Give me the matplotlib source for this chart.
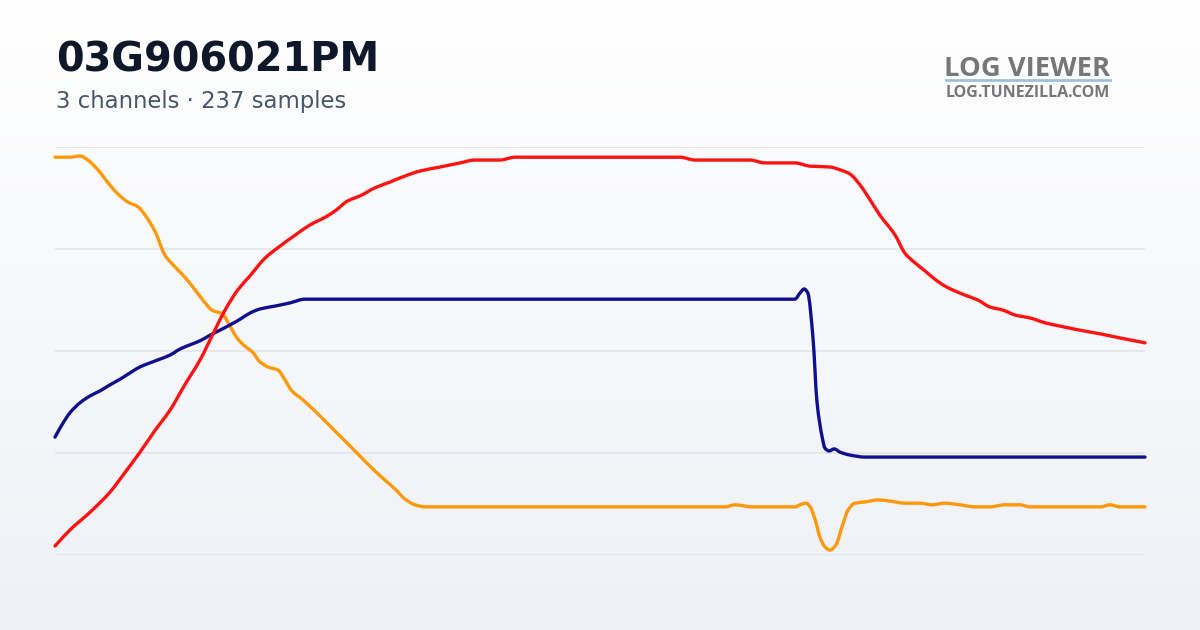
import matplotlib
matplotlib.use('Agg')
import matplotlib.pyplot as plt
import numpy as np
from matplotlib.lines import Line2D
from matplotlib.path import Path
from matplotlib.patches import PathPatch

# ---- data (sample index, % of range) ----
red_x = [0, 3.2, 7.6, 11.9, 15.2, 18.4, 21.7, 24.9, 28.1, 31.4, 34.6, 36.8, 39.6, 42.2,
         45.5, 48.7, 52.0, 55.2, 58.5, 60.6, 63.4, 66.0, 69.3, 72.5, 75.8, 79.0, 83.4,
         87.7, 90.9, 96.3, 99.6, 102.8, 135.3, 138.6, 150.5, 153.7, 160.2, 163.5, 167.8,
         170.0, 172.1, 174.3, 176.5, 178.6, 181.9, 184.0, 186.2, 188.4, 190.5, 192.7,
         194.9, 197.0, 199.8, 202.4, 205.3, 207.9, 211.1, 214.4, 217.6, 221.9, 226.3,
         230.6, 236.0]
red_y = [2.2, 6.1, 10.5, 15.4, 20.3, 25.2, 30.6, 35.5, 41.7, 47.8, 55.1, 60.0, 65.0, 68.4,
         72.8, 75.7, 78.4, 80.9, 82.8, 84.3, 86.8, 88.0, 90.0, 91.4, 92.9, 94.1, 95.1,
         96.1, 96.8, 96.8, 97.5, 97.5, 97.5, 96.8, 96.8, 96.1, 96.1, 95.3, 95.1,
         94.4, 93.4, 90.7, 87.0, 83.3, 78.4, 74.0, 71.6, 69.6, 67.6, 65.9,
         64.7, 63.7, 62.5, 60.8, 60.0, 58.8, 58.1, 56.9, 56.1, 55.1, 54.2,
         53.2, 52.0]

blue_x = [0, 1.5, 3.2, 5.4, 7.6, 9.7, 11.9, 14.1, 16.2, 18.4, 20.6, 22.7, 24.9, 27.1,
          29.2, 31.4, 33.6, 35.7, 37.9, 40.1, 42.2, 44.4, 47.6, 50.9, 54.1, 56.3,
          160.2, 161.3, 162.2, 163.0, 164.1, 165.0, 166.1, 166.7, 167.6, 168.7, 170.0,
          172.1, 175.4, 236.0]
blue_y = [28.9, 31.9, 34.8, 37.3, 39.0, 40.2, 41.7, 43.1, 44.6, 46.1, 47.1, 48.0, 49.0, 50.5,
          51.5, 52.5, 53.9, 55.1, 56.4, 57.8, 59.3, 60.3, 61.0, 61.8, 62.7, 62.7,
          62.7, 64.2, 65.2, 64.2, 53.4, 37.3, 28.9, 26.2, 25.5, 26.0, 25.2,
          24.5, 24.0, 24.0]

orange_x = [0, 3.2, 5.4, 7.1, 9.3, 11.5, 13.6, 15.8, 18.0, 19.5, 21.7, 23.8, 26.0, 28.1,
            30.3, 32.5, 34.0, 36.2, 37.9, 39.4, 41.1, 42.7, 44.4, 46.1, 48.3, 49.8,
            51.3, 53.5, 55.6, 57.8, 60.6, 63.9, 67.1, 70.4, 73.6, 75.8, 77.9, 80.1,
            145.1, 147.2, 149.4, 150.5, 160.2, 161.3, 162.6, 163.5, 164.6, 165.6, 166.7,
            167.8, 169.1, 170.4, 171.7, 173.2, 175.4, 178.2, 180.8, 184.0, 187.3, 189.9,
            192.7, 195.9, 199.2, 202.4, 205.7, 208.9, 211.1, 226.3, 228.4, 230.6, 236.0]
orange_y = [97.5, 97.5, 97.8, 96.8, 94.4, 91.2, 88.5, 86.5, 85.3, 83.3, 79.2, 73.5, 70.6, 68.1,
            65.0, 61.8, 60.0, 59.1, 56.1, 53.2, 51.2, 49.8, 47.3, 46.1, 45.3, 42.9,
            40.2, 38.2, 36.0, 33.6, 30.4, 26.7, 23.0, 19.4, 16.2, 13.7, 12.3, 11.8,
            11.8, 12.3, 12.0, 11.8, 11.8, 12.3, 12.7, 11.8, 8.6, 4.4, 2.0,
            1.2, 2.5, 6.9, 11.0, 12.7, 13.0, 13.5, 13.2, 12.7, 12.7, 12.3,
            12.7, 12.3, 11.8, 11.8, 12.3, 12.3, 11.8, 11.8, 12.3, 11.8, 11.8]

grid_levels = [0, 25, 50, 75, 100]
n_samples = 237

RED = '#ff1212'
BLUE = '#10108f'
ORANGE = '#ff980a'


def smooth_path(xs, ys):
    """Monotone cubic (Fritsch-Carlson) through the points, as bezier segments."""
    x = np.asarray(xs, float)
    y = np.asarray(ys, float)
    h = np.diff(x)
    d = np.diff(y) / h
    m = np.zeros_like(y)
    m[0], m[-1] = d[0], d[-1]
    for i in range(1, len(y) - 1):
        if d[i - 1] * d[i] <= 0:
            m[i] = 0
        else:
            w1 = 2 * h[i] + h[i - 1]
            w2 = h[i] + 2 * h[i - 1]
            m[i] = (w1 + w2) / (w1 / d[i - 1] + w2 / d[i])
    verts = [(x[0], y[0])]
    codes = [Path.MOVETO]
    for i in range(len(x) - 1):
        verts += [(x[i] + h[i] / 3, y[i] + m[i] * h[i] / 3),
                  (x[i + 1] - h[i] / 3, y[i + 1] - m[i + 1] * h[i] / 3),
                  (x[i + 1], y[i + 1])]
        codes += [Path.CURVE4] * 3
    return Path(verts, codes)


fig = plt.figure(figsize=(12, 6.3), dpi=100)

# background gradient
bg = fig.add_axes([0, 0, 1, 1], zorder=0)
grad = np.linspace(0, 1, 256).reshape(-1, 1)
top = np.array([1.0, 1.0, 1.0])
bot = np.array([0xee, 0xf1, 0xf6]) / 255
img = top + (bot - top) * grad[..., None]
bg.imshow(img, aspect='auto', extent=[0, 1, 0, 1])
bg.set_axis_off()

ax = fig.add_axes([55 / 1200, 1 - 555 / 630, 1090 / 1200, 408 / 630], zorder=1)
ax.patch.set_alpha(0)
ax.set_xlim(0, n_samples - 1)
ax.set_ylim(0, 100)
for g in grid_levels:
    ax.axhline(g, color='#e1e4ea', lw=1.2, zorder=1)
for xs, ys, c in [(orange_x, orange_y, ORANGE), (blue_x, blue_y, BLUE), (red_x, red_y, RED)]:
    ax.add_patch(PathPatch(smooth_path(xs, ys), fill=False, edgecolor=c, lw=2.4,
                           joinstyle='round', capstyle='round', clip_on=False, zorder=3))
ax.set_axis_off()

fig.text(56 / 1200, 1 - 72 / 630, '03G906021PM', fontsize=28.7, fontweight='bold',
         color='#0f172a', va='baseline', ha='left')
fig.text(56 / 1200, 1 - 108 / 630, '3 channels · 237 samples', fontsize=16.4,
         color='#475569', va='baseline', ha='left')

fig.text(1110 / 1200, 1 - 76 / 630, 'LOG VIEWER', fontsize=19.7, fontweight='bold',
         family=['Open Sans', 'DejaVu Sans'], color='#777777', va='baseline', ha='right')
fig.add_artist(Line2D([946 / 1200, 1110 / 1200], [1 - 80 / 630, 1 - 80 / 630],
                      color='#9dc0e0', lw=2, transform=fig.transFigure))
fig.text(1110 / 1200, 1 - 97 / 630, 'LOG.TUNEZILLA.COM', fontsize=11.5, fontweight='bold',
         family=['Open Sans', 'DejaVu Sans'], color='#777777', va='baseline', ha='right')

fig.savefig('out.png', dpi=100)
